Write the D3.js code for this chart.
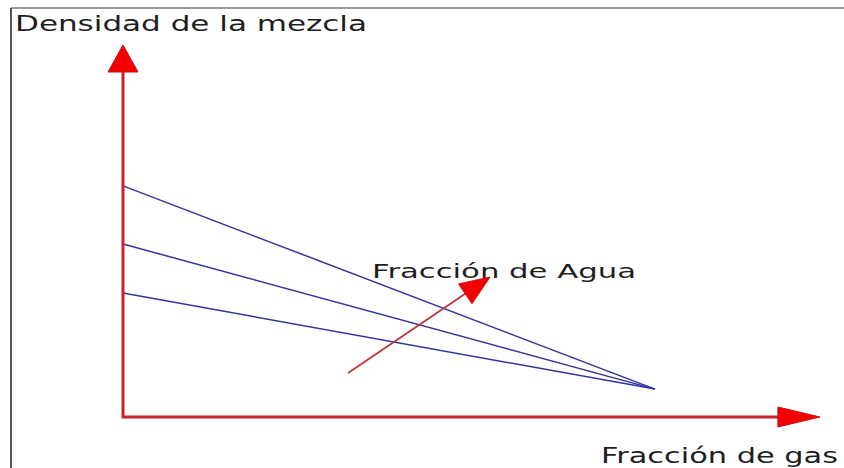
<!DOCTYPE html>
<html>
<head>
<meta charset="utf-8">
<script src="https://cdn.jsdelivr.net/npm/d3@7"></script>
<style>
    body { margin: 0; background: #fff; }
    text { font-family: "DejaVu Sans", Verdana, sans-serif; fill: #1e1e1e; }
</style>
</head>
<body>
<div id="chart"></div>
<script>
'use strict';

// Densidad del liquido (gas = 0) para cada fraccion de agua, y densidad del gas (gas = 1)
const waterCuts = ['alta', 'media', 'baja'];
const liquidDensity = [0.994, 0.744, 0.533];
const gasDensity = 0.12;

// Ejes (dominios en unidades del diagrama)
const gasDomain = [0, 1];
const axisMax = [1.31, 1.6];

// Flecha "Fraccion de Agua" (fraccion de gas, densidad)
const waterArrow = [[0.423, 0.189], [0.69, 0.602]];

// Textos
const labels = {
    y: 'Densidad de la mezcla',
    x: 'Fracción de gas',
    water: 'Fracción de Agua'
};

const w = 844, h = 468;

const svg = d3.select('#chart')
    .append('svg')
    .attr('width', w)
    .attr('height', h);

// Frame
svg.append('line')
    .attr('x1', 11).attr('x2', w).attr('y1', 8).attr('y2', 8)
    .attr('stroke', '#9a9a9a').attr('stroke-width', 2);
svg.append('line')
    .attr('x1', 11).attr('x2', 11).attr('y1', 8).attr('y2', h)
    .attr('stroke', '#555').attr('stroke-width', 2);

// Scales
const x0 = 123, y0 = 417;
const xScale = d3.scaleLinear()
    .domain(gasDomain)
    .range([x0, 655]);
const yScale = d3.scaleLinear()
    .domain([0, axisMax[1]])
    .range([y0, 45]);

// Mixture density lines
const lineMaker = d3.line()
    .x(d => xScale(d[0]))
    .y(d => yScale(d[1]));

svg.append('g')
    .selectAll('path')
    .data(liquidDensity)
    .join('path')
    .attr('d', d => lineMaker([[0, d], [1, gasDensity]]))
    .attr('fill', 'none')
    .attr('stroke', '#34349c')
    .attr('stroke-width', 1.5);

// Arrow head helper
function head(tip, dir, len, half) {
    const n = Math.hypot(dir[0], dir[1]);
    const ux = dir[0] / n, uy = dir[1] / n;
    const bx = tip[0] - ux * len, by = tip[1] - uy * len;
    return [[tip[0], tip[1]], [bx - uy * half, by + ux * half], [bx + uy * half, by - ux * half]];
}

const axisG = svg.append('g');

// Axes
const yTop = yScale(axisMax[1]);
const xEnd = xScale(axisMax[0]);
axisG.append('path')
    .attr('d', `M${x0},${yTop + 20}V${y0}H${xEnd - 30}`)
    .attr('fill', 'none')
    .attr('stroke', '#c8222c')
    .attr('stroke-width', 3)
    .attr('stroke-linejoin', 'miter');

axisG.append('polygon')
    .attr('points', head([x0, yTop], [0, -1], 27, 15).join(' '))
    .attr('fill', '#f40000')
    .attr('stroke', '#c01010')
    .attr('stroke-width', 1);
axisG.append('polygon')
    .attr('points', head([xEnd, y0], [1, 0], 42, 10).join(' '))
    .attr('fill', '#f40000')
    .attr('stroke', '#c01010')
    .attr('stroke-width', 1);

// Water fraction arrow
const wa0 = [xScale(waterArrow[0][0]), yScale(waterArrow[0][1])];
const wa1 = [xScale(waterArrow[1][0]), yScale(waterArrow[1][1])];
const wdir = [wa1[0] - wa0[0], wa1[1] - wa0[1]];
const wlen = Math.hypot(wdir[0], wdir[1]);
svg.append('line')
    .attr('x1', wa0[0]).attr('y1', wa0[1])
    .attr('x2', wa1[0] - wdir[0] / wlen * 26).attr('y2', wa1[1] - wdir[1] / wlen * 26)
    .attr('stroke', '#b8383c')
    .attr('stroke-width', 1.8);
svg.append('polygon')
    .attr('points', head(wa1, wdir, 30, 12).join(' '))
    .attr('fill', '#f40000')
    .attr('stroke', '#d01010')
    .attr('stroke-width', 1);

// Labels (picture is stretched horizontally, so fix text lengths)
svg.append('text')
    .attr('x', 15).attr('y', 31)
    .attr('font-size', 22)
    .attr('textLength', 352)
    .attr('lengthAdjust', 'spacingAndGlyphs')
    .text(labels.y);

svg.append('text')
    .attr('x', 601).attr('y', 463)
    .attr('font-size', 22)
    .attr('textLength', 237)
    .attr('lengthAdjust', 'spacingAndGlyphs')
    .text(labels.x);

svg.append('text')
    .attr('x', xScale(0.468)).attr('y', yScale(0.6))
    .attr('font-size', 20)
    .attr('textLength', 264)
    .attr('lengthAdjust', 'spacingAndGlyphs')
    .text(labels.water);
</script>
</body>
</html>
